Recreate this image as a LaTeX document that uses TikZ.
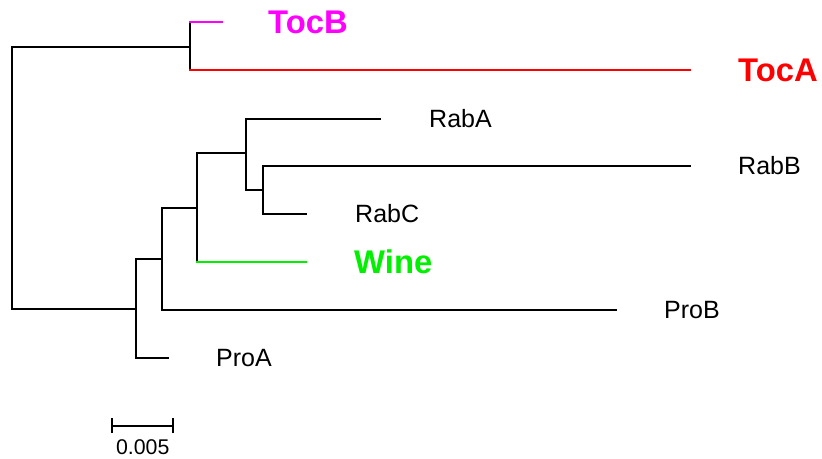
\documentclass[tikz,border=0pt]{standalone}
\usepackage{fontspec}
\setmainfont{Liberation Sans}
\definecolor{tmag}{RGB}{255,0,255}
\definecolor{tred}{RGB}{255,0,0}
\definecolor{tgreen}{RGB}{0,240,0}
\begin{document}
\begin{tikzpicture}[x=1pt,y=-1pt,
  br/.style={line width=2pt,line cap=rect},
  lab/.style={anchor=west,inner sep=0pt,font=\fontsize{25}{28}\selectfont},
  blab/.style={anchor=west,inner sep=0pt,font=\fontsize{32.8}{36}\selectfont\bfseries}]
\useasboundingbox (0,0) rectangle (822,458);
% internal nodes
\coordinate (root) at (12.3,178);
\coordinate (ntoc) at (189.5,46.7);
\coordinate (nlow) at (135.5,309);
\coordinate (n2) at (162.3,259.3);
\coordinate (n3) at (197.3,207.7);
\coordinate (n4) at (245.7,153.3);
\coordinate (n5) at (262.7,190);
% tips
\coordinate (tTocB) at (221.7,22.3);
\coordinate (tTocA) at (690,70);
\coordinate (tRabA) at (380,118.7);
\coordinate (tRabB) at (690,166.3);
\coordinate (tRabC) at (306,214.3);
\coordinate (tWine) at (305.7,262.3);
\coordinate (tProB) at (616,310.3);
\coordinate (tProA) at (168.3,358);
% labels
\node[blab,text=tmag] (lTocB) at (268,22) {TocB};
\node[blab,text=tred] (lTocA) at (738,70) {TocA};
\node[lab] (lRabA) at (429,118.5) {RabA};
\node[lab] (lRabB) at (738,166) {RabB};
\node[lab] (lRabC) at (355,213.5) {RabC};
\node[blab,text=tgreen] (lWine) at (354,262) {Wine};
\node[lab] (lProB) at (664,310) {ProB};
\node[lab] (lProA) at (216,358) {ProA};
% branches
\draw[br] (ntoc -| root) -- (nlow -| root);
\draw[br] (ntoc -| root) -- (ntoc);
\draw[br] (nlow -| root) -- (nlow);
\draw[br] (tTocB -| ntoc) -- (tTocA -| ntoc);
\draw[br,tmag] (tTocB -| ntoc) -- (tTocB);
\draw[br,tred] (tTocA -| ntoc) -- (tTocA);
\draw[br] (n2 -| nlow) -- (tProA -| nlow);
\draw[br] (tProA -| nlow) -- (tProA);
\draw[br] (n2 -| nlow) -- (n2);
\draw[br] (n3 -| n2) -- (tProB -| n2);
\draw[br] (tProB -| n2) -- (tProB);
\draw[br] (n3 -| n2) -- (n3);
\draw[br] (n4 -| n3) -- (tWine -| n3);
\draw[br,tgreen] (tWine -| n3) -- (tWine);
\draw[br] (n4 -| n3) -- (n4);
\draw[br] (tRabA -| n4) -- (n5 -| n4);
\draw[br] (tRabA -| n4) -- (tRabA);
\draw[br] (n5 -| n4) -- (n5);
\draw[br] (tRabB -| n5) -- (tRabC -| n5);
\draw[br] (tRabB -| n5) -- (tRabB);
\draw[br] (tRabC -| n5) -- (tRabC);
% scale bar
\coordinate (sbL) at (112.3,425.7);
\coordinate (sbR) at (173,425.7);
\draw[br,line cap=butt] (sbL) -- (sbR);
\draw[br,line cap=butt] ([yshift=-7.5pt]sbL) -- ([yshift=7.5pt]sbL);
\draw[br,line cap=butt] ([yshift=-7.5pt]sbR) -- ([yshift=7.5pt]sbR);
\node[inner sep=0pt,anchor=center,font=\fontsize{21.3}{24}\selectfont] (sbt) at (142.7,447.5) {0.005};
\end{tikzpicture}
\end{document}
